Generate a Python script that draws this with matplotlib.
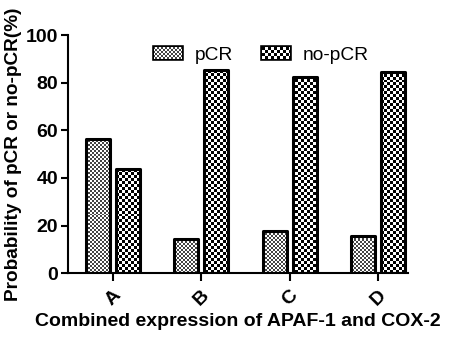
import numpy as np
import matplotlib
matplotlib.use('Agg')
import matplotlib.pyplot as plt
from matplotlib.patches import Rectangle

plt.rcParams['font.family'] = ['Liberation Sans', 'DejaVu Sans']

# Data
groups = ['A', 'B', 'C', 'D']
pcr = [56.3, 14.5, 17.5, 15.6]
no_pcr = [43.7, 85.5, 82.5, 84.4]

fig = plt.figure(figsize=(4.5, 3.38), dpi=100)
ax = fig.add_axes([0.151, 0.192, 0.756, 0.704])

x = np.arange(len(groups))
w = 0.27
off = 0.17

bars1 = ax.bar(x - off, pcr, width=w, facecolor='none', edgecolor='black',
               linewidth=2.2, joinstyle='round', zorder=3)
bars2 = ax.bar(x + off, no_pcr, width=w, facecolor='none', edgecolor='black',
               linewidth=2.2, joinstyle='round', zorder=3)

ax.set_xlim(-0.51, 3.34)
ax.set_ylim(0, 100)


def checker(cell):
    # checkerboard covering the whole axes, cell size in pixels
    nx = int(340 / cell) + 1
    ny = int(238 / cell) + 1
    return (np.indices((ny, nx)).sum(axis=0) % 2).astype(float)


fine = checker(2)
coarse = checker(3)
extent = (-0.51, 3.34, 0, 100)


def fill(patch, img, dark, z=2):
    im = ax.imshow(img, extent=extent, cmap=matplotlib.colors.ListedColormap([dark, 'white']),
                   interpolation='nearest', aspect='auto', origin='lower', zorder=z)
    im.set_clip_path(patch)


for b in bars1:
    fill(b, fine, '#444444')
for b in bars2:
    fill(b, coarse, 'black')

# legend
h1 = Rectangle((0, 0), 1, 1, facecolor='none', edgecolor='black', linewidth=2.6)
h2 = Rectangle((0, 0), 1, 1, facecolor='none', edgecolor='black', linewidth=2.6)
leg = ax.legend([h1, h2], ['pCR', 'no-pCR'], loc='center', bbox_to_anchor=(0.569, 0.916),
                ncol=2, frameon=False, fontsize=13.8, handlelength=1.45, handleheight=0.55,
                columnspacing=1.5, handletextpad=0.67, borderpad=0, borderaxespad=0)
leg.set_zorder(5)
lp = leg.get_patches()
fill(lp[0], fine, '#444444', z=6)
fill(lp[1], coarse, 'black', z=6)

ax.spines['top'].set_visible(False)
ax.spines['right'].set_visible(False)
ax.spines['left'].set_linewidth(1.5)
ax.spines['bottom'].set_linewidth(1.5)

ax.set_yticks([0, 20, 40, 60, 80, 100])
ax.set_xticks(x)
ax.set_xticklabels(groups, rotation=45, fontweight='bold', fontsize=14)
ax.tick_params(axis='both', width=1.5, length=5, labelsize=14, pad=2)
ax.tick_params(axis='x', length=6, pad=4)
for t in ax.get_yticklabels():
    t.set_fontweight('bold')

ax.set_ylabel('Probability of pCR or no-pCR(%)', fontsize=13.7, fontweight='bold', labelpad=3)
ax.set_xlabel('Combined expression of APAF-1 and COX-2', fontsize=14, fontweight='bold', labelpad=3)

fig.savefig('out.png', dpi=100)
